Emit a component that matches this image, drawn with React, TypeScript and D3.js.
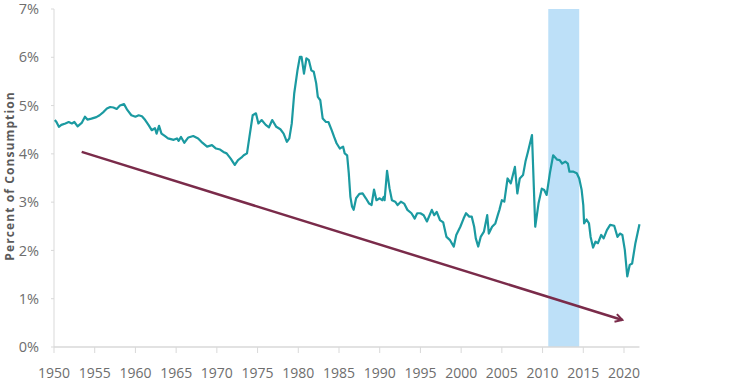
import React from "react";
import * as d3 from "d3";

const years = [1950.1,1950.3,1950.6,1950.9,1951.4,1951.8,1952.2,1952.5,1952.9,1953.4,1953.8,1954.1,1954.6,1955.2,1955.6,1956.1,1956.5,1956.9,1957.3,1957.7,1958.1,1958.6,1959.0,1959.5,1960.0,1960.4,1960.8,1961.2,1961.6,1962.0,1962.4,1962.6,1962.9,1963.2,1963.6,1964.0,1964.7,1965.1,1965.3,1965.6,1966.0,1966.5,1967.1,1967.7,1968.1,1968.8,1969.4,1969.9,1970.4,1970.8,1971.2,1971.7,1972.2,1972.6,1973.0,1973.3,1973.7,1974.0,1974.4,1974.8,1975.1,1975.5,1976.0,1976.4,1976.8,1977.3,1977.8,1978.2,1978.6,1978.9,1979.2,1979.5,1979.9,1980.2,1980.4,1980.7,1981.0,1981.3,1981.6,1981.9,1982.2,1982.4,1982.7,1983.0,1983.4,1983.7,1984.1,1984.4,1984.7,1985.1,1985.5,1985.7,1986.0,1986.2,1986.4,1986.6,1986.8,1987.1,1987.5,1987.9,1988.3,1988.7,1989.0,1989.3,1989.6,1990.0,1990.3,1990.5,1990.6,1990.9,1991.2,1991.5,1991.9,1992.2,1992.6,1993.0,1993.4,1993.9,1994.3,1994.6,1995.0,1995.4,1995.8,1996.4,1996.7,1997.0,1997.4,1997.8,1998.2,1998.6,1999.1,1999.4,1999.9,2000.3,2000.6,2001.0,2001.3,2001.6,2001.8,2002.1,2002.4,2002.8,2003.2,2003.4,2003.8,2004.2,2004.5,2004.7,2005.0,2005.3,2005.7,2006.1,2006.6,2006.9,2007.2,2007.6,2007.9,2008.2,2008.7,2009.1,2009.5,2009.9,2010.2,2010.5,2010.9,2011.3,2011.8,2012.1,2012.4,2012.8,2013.1,2013.3,2013.8,2014.2,2014.5,2014.8,2015.0,2015.1,2015.4,2015.7,2015.9,2016.2,2016.5,2016.8,2017.2,2017.5,2017.9,2018.3,2018.8,2019.2,2019.5,2019.8,2020.1,2020.4,2020.7,2021.0,2021.4,2021.9];
const values = [4.70,4.66,4.56,4.60,4.63,4.66,4.63,4.66,4.57,4.64,4.77,4.71,4.73,4.76,4.80,4.87,4.94,4.97,4.96,4.93,5.00,5.03,4.91,4.80,4.77,4.80,4.78,4.70,4.60,4.49,4.53,4.42,4.58,4.42,4.37,4.32,4.29,4.32,4.27,4.35,4.23,4.34,4.37,4.32,4.25,4.15,4.18,4.11,4.09,4.04,4.01,3.90,3.77,3.87,3.92,3.97,4.01,4.35,4.80,4.84,4.63,4.70,4.60,4.55,4.70,4.56,4.51,4.42,4.25,4.32,4.63,5.25,5.73,6.01,6.01,5.66,5.98,5.94,5.73,5.70,5.46,5.18,5.11,4.73,4.66,4.66,4.49,4.35,4.22,4.11,4.15,4.01,3.97,3.60,3.11,2.91,2.84,3.08,3.17,3.18,3.08,2.97,2.94,3.26,3.04,3.08,3.04,3.11,3.04,3.65,3.29,3.04,3.01,2.94,3.01,2.97,2.84,2.77,2.66,2.77,2.77,2.73,2.60,2.84,2.73,2.80,2.63,2.58,2.28,2.22,2.08,2.32,2.49,2.66,2.77,2.70,2.70,2.49,2.25,2.08,2.28,2.39,2.73,2.35,2.49,2.56,2.73,2.84,3.04,3.01,3.49,3.39,3.73,3.18,3.49,3.56,3.84,4.04,4.39,2.49,2.97,3.28,3.25,3.15,3.60,3.97,3.88,3.87,3.80,3.84,3.80,3.63,3.63,3.60,3.49,3.25,2.94,2.56,2.64,2.56,2.28,2.06,2.18,2.15,2.32,2.25,2.42,2.53,2.51,2.28,2.35,2.32,2.01,1.46,1.70,1.73,2.15,2.54];

const xTicks = [1950,1955,1960,1965,1970,1975,1980,1985,1990,1995,2000,2005,2010,2015,2020];
const yTicks = [0,1,2,3,4,5,6,7];
const bandYears = [2010.7, 2014.5];
const trendYears = [1953.4, 2019.8];
const trendValues = [4.04, 0.56];
const yTitle = "Percent of Consumption";

export default function App() {
  const x = d3.scaleLinear().domain([1950, 2020]).range([54, 624]);
  const y = d3.scaleLinear().domain([0, 7]).range([347, 9]);
  const xEnd = 2021.9;
  const pts: [number, number][] = years.map((yr, i) => [yr, values[i]]);
  const line = d3.line<[number, number]>().x(d => x(d[0])).y(d => y(d[1]));
  const font = "'Open Sans', 'Noto Sans', sans-serif";
  const axisColor = "#d9d9d9";
  const textColor = "#6e6e6e";
  const tx1 = x(trendYears[0]), ty1 = y(trendValues[0]);
  const tx2 = x(trendYears[1]), ty2 = y(trendValues[1]);
  return (
    <svg width={736} height={382} style={{ position: "absolute", left: 0, top: 0, background: "#fff" }}>
      <defs>
        <marker id="arr" viewBox="0 0 10 10" refX="8" refY="5" markerWidth="4" markerHeight="4" orient="auto" markerUnits="strokeWidth">
          <path d="M1,1 L8,5 L1,9" fill="none" stroke="#7a2b4a" strokeWidth={2} />
        </marker>
      </defs>
      <rect x={x(bandYears[0])} y={y(7)} width={x(bandYears[1]) - x(bandYears[0])} height={y(0) - y(7)} fill="#bde0f8" />
      <line x1={x(1950)} x2={x(1950)} y1={y(7)} y2={y(0)} stroke={axisColor} strokeWidth={1} />
      <line x1={x(1950)} x2={x(xEnd)} y1={y(0)} y2={y(0)} stroke={axisColor} strokeWidth={1.5} />
      {yTicks.map(t => (
        <g key={t}>
          <line x1={x(1950) - 3} x2={x(1950)} y1={y(t)} y2={y(t)} stroke={axisColor} />
          <text x={39} y={y(t)} dy="0.35em" textAnchor="end" fontFamily={font} fontSize={14.5} fill={textColor}>{t}%</text>
        </g>
      ))}
      {xTicks.map(t => (
        <g key={t}>
          <line x1={x(t)} x2={x(t)} y1={y(0)} y2={y(0) + 6} stroke={axisColor} />
          <text x={x(t)} y={378} textAnchor="middle" fontFamily={font} fontSize={14} fill={textColor}>{t}</text>
        </g>
      ))}
      <text transform={`translate(13.5,176) rotate(-90)`} textAnchor="middle" fontFamily={font} fontSize={12} letterSpacing={1.1} fontWeight="bold" fill="#5a5a5a">{yTitle}</text>
      <path d={line(pts) || ""} fill="none" stroke="#1b9aa1" strokeWidth={2.2} strokeLinejoin="round" />
      <line x1={tx1} y1={ty1} x2={tx2} y2={ty2} stroke="#7a2b4a" strokeWidth={2.5} markerEnd="url(#arr)" />
    </svg>
  );
}
